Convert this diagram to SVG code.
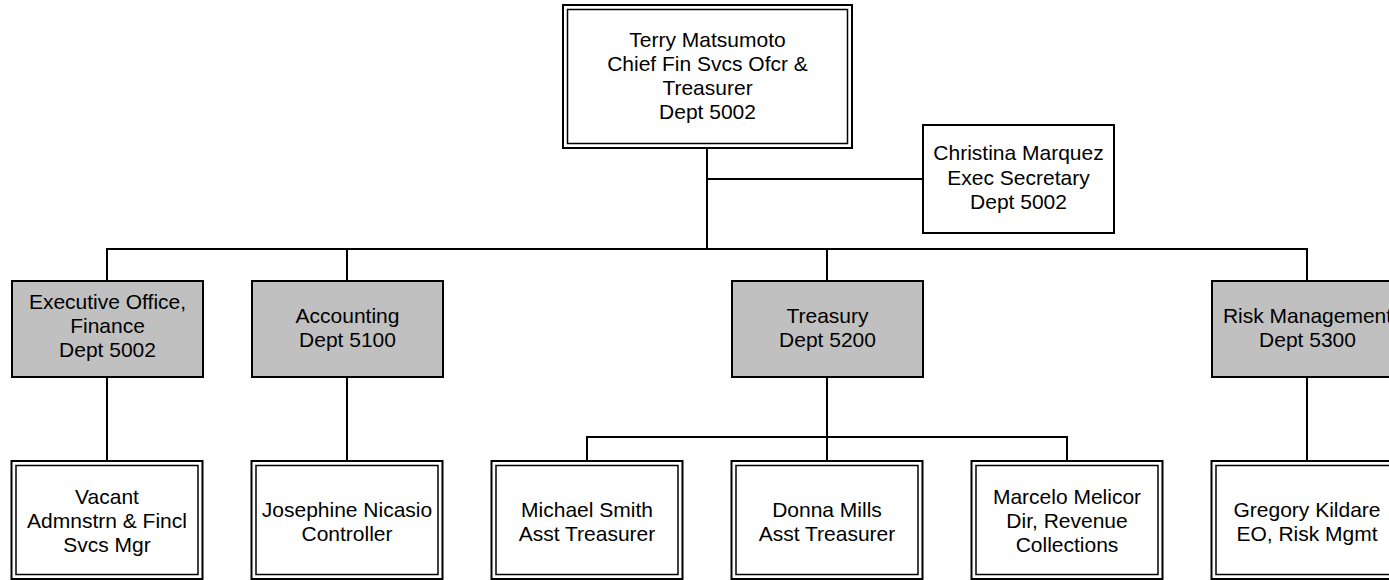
<svg xmlns="http://www.w3.org/2000/svg" width="1389" height="580" viewBox="0 0 1389 580">
<style>
  .outer { fill: #ffffff; stroke: #000; stroke-width: 2; }
  .inner { fill: none; stroke: #000; stroke-width: 1.5; }
  .plain { fill: #ffffff; stroke: #000; stroke-width: 2; }
  .dept { fill: #c0c0c0; stroke: #000; stroke-width: 2; }
  .conn line { stroke: #000; stroke-width: 2; }
  text { font-family: "Liberation Sans", Arial, sans-serif; font-size: 21px; fill: #000; text-anchor: middle; }
</style>
<rect width="1389" height="580" fill="#ffffff"/>
<g id="connectors" class="conn">
  <line x1="707" y1="148" x2="707" y2="249"/>
  <line x1="707" y1="179" x2="923" y2="179"/>
  <line x1="106" y1="249" x2="1308" y2="249"/>
  <line x1="107" y1="249" x2="107" y2="281"/>
  <line x1="347" y1="249" x2="347" y2="281"/>
  <line x1="827" y1="249" x2="827" y2="281"/>
  <line x1="1307" y1="249" x2="1307" y2="281"/>
  <line x1="107" y1="377" x2="107" y2="461"/>
  <line x1="347" y1="377" x2="347" y2="461"/>
  <line x1="827" y1="377" x2="827" y2="461"/>
  <line x1="1307" y1="377" x2="1307" y2="461"/>
  <line x1="586" y1="437" x2="1068" y2="437"/>
  <line x1="587" y1="437" x2="587" y2="461"/>
  <line x1="1067" y1="437" x2="1067" y2="461"/>
</g>
<g id="node-terry">
  <rect class="outer" x="563" y="5" width="289" height="143"/>
  <rect class="inner" x="567.5" y="9.5" width="280" height="134"/>
  <text x="707.5" y="46.5">Terry Matsumoto</text>
  <text x="707.5" y="70.8">Chief Fin Svcs Ofcr &amp;</text>
  <text x="707.5" y="95.1">Treasurer</text>
  <text x="707.5" y="119.4">Dept 5002</text>
</g>
<g id="node-christina">
  <rect class="plain" x="923" y="125" width="191" height="108"/>
  <text x="1018.5" y="160">Christina Marquez</text>
  <text x="1018.5" y="184.5">Exec Secretary</text>
  <text x="1018.5" y="209">Dept 5002</text>
</g>
<g id="node-exec">
  <rect class="dept" x="12" y="281" width="191" height="96"/>
  <text x="107.5" y="308.5">Executive Office,</text>
  <text x="107.5" y="333">Finance</text>
  <text x="107.5" y="357">Dept 5002</text>
</g>
<g id="node-accounting">
  <rect class="dept" x="252" y="281" width="191" height="96"/>
  <text x="347.5" y="322.5">Accounting</text>
  <text x="347.5" y="346.5">Dept 5100</text>
</g>
<g id="node-treasury">
  <rect class="dept" x="732" y="281" width="191" height="96"/>
  <text x="827.5" y="322.5">Treasury</text>
  <text x="827.5" y="346.5">Dept 5200</text>
</g>
<g id="node-risk">
  <rect class="dept" x="1212" y="281" width="191" height="96"/>
  <text x="1307.5" y="322.5">Risk Management</text>
  <text x="1307.5" y="346.5">Dept 5300</text>
</g>
<g id="node-vacant">
  <rect class="outer" x="11.5" y="461" width="191" height="118"/>
  <rect class="inner" x="16" y="465.5" width="182" height="109"/>
  <text x="107" y="504">Vacant</text>
  <text x="107" y="528">Admnstrn &amp; Fincl</text>
  <text x="107" y="552">Svcs Mgr</text>
</g>
<g id="node-josephine">
  <rect class="outer" x="251.5" y="461" width="191" height="118"/>
  <rect class="inner" x="256" y="465.5" width="182" height="109"/>
  <text x="347" y="516.5">Josephine Nicasio</text>
  <text x="347" y="540.5">Controller</text>
</g>
<g id="node-michael">
  <rect class="outer" x="491.5" y="461" width="191" height="118"/>
  <rect class="inner" x="496" y="465.5" width="182" height="109"/>
  <text x="587" y="516.5">Michael Smith</text>
  <text x="587" y="540.5">Asst Treasurer</text>
</g>
<g id="node-donna">
  <rect class="outer" x="731.5" y="461" width="191" height="118"/>
  <rect class="inner" x="736" y="465.5" width="182" height="109"/>
  <text x="827" y="516.5">Donna Mills</text>
  <text x="827" y="540.5">Asst Treasurer</text>
</g>
<g id="node-marcelo">
  <rect class="outer" x="971.5" y="461" width="191" height="118"/>
  <rect class="inner" x="976" y="465.5" width="182" height="109"/>
  <text x="1067" y="504">Marcelo Melicor</text>
  <text x="1067" y="528">Dir, Revenue</text>
  <text x="1067" y="552">Collections</text>
</g>
<g id="node-gregory">
  <rect class="outer" x="1211.5" y="461" width="191" height="118"/>
  <rect class="inner" x="1216" y="465.5" width="182" height="109"/>
  <text x="1307" y="516.5">Gregory Kildare</text>
  <text x="1307" y="540.5">EO, Risk Mgmt</text>
</g>
</svg>
